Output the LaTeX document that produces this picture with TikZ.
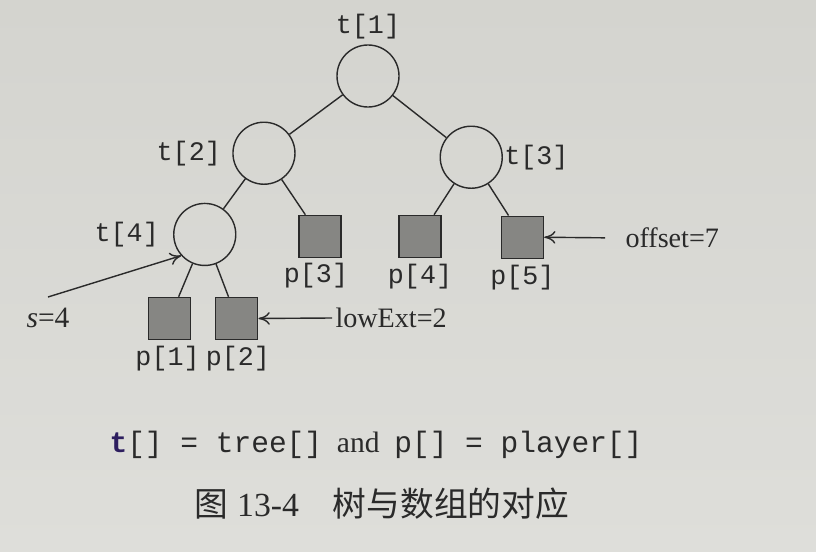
\documentclass[tikz,border=0pt]{standalone}
\usepackage{fontspec}
\setmainfont{Liberation Serif}
\setmonofont{Liberation Mono}
\newfontfamily\cjk{Noto Sans CJK SC}
\usetikzlibrary{positioning,arrows.meta}

\definecolor{paper}{RGB}{212,212,207}
\definecolor{paperlow}{RGB}{222,222,218}
\definecolor{leaf}{RGB}{134,134,131}
\definecolor{ink}{RGB}{42,42,42}
\definecolor{pen}{RGB}{45,30,95}

\begin{document}
\begin{tikzpicture}[x=0.025cm,y=-0.025cm,on grid,auto,
    line width=1pt,draw=ink,text=ink,>={To[length=8pt,width=9pt]},
    tnode/.style={circle,draw,minimum size=1.55cm,inner sep=0pt},
    pnode/.style={rectangle,draw,fill=leaf,minimum size=1.05cm,inner sep=0pt},
    tlabel/.style={font=\ttfamily\fontsize{19}{21}\selectfont,inner sep=0pt},
    note/.style={font=\fontsize{20}{22}\selectfont,inner sep=2pt}]
    % page
    \shade[top color=paper,bottom color=paperlow,draw=none] (0,0) rectangle (816,552);

    % \node[style] (identifier) [placement] {display};
    \node[tnode] (t1) at (368,76) {};
    \node[tnode] (t2) [below left=1.93cm and 2.6cm of t1] {};
    \node[tnode] (t3) [below right=2.03cm and 2.58cm of t1] {};
    \node[tnode] (t4) [below left=2.03cm and 1.48cm of t2] {};
    \node[pnode] (p3) [below right=2.08cm and 1.4cm of t2] {};
    \node[pnode] (p4) [below left=1.98cm and 1.28cm of t3] {};
    \node[pnode] (p5) [below right=2.0cm and 1.28cm of t3] {};
    \node[pnode] (p1) [below left=2.1cm and 0.88cm of t4] {};
    \node[pnode] (p2) [below right=2.1cm and 0.8cm of t4] {};

    \node[tlabel] (l1) [above=1.23cm of t1] {t[1]};
    \node[tlabel] (l2) [left=1.88cm of t2] {t[2]};
    \node[tlabel] (l3) [right=1.63cm of t3] {t[3]};
    \node[tlabel] (l4) [left=1.95cm of t4] {t[4]};
    \node[tlabel] (lp1) [below=1.0cm of p1,xshift=-0.05cm] {p[1]};
    \node[tlabel] (lp2) [below=1.0cm of p2,xshift=0.03cm] {p[2]};
    \node[tlabel] (lp3) [below=0.98cm of p3,xshift=-0.1cm] {p[3]};
    \node[tlabel] (lp4) [below=1.0cm of p4] {p[4]};
    \node[tlabel] (lp5) [below=1.0cm of p5] {p[5]};

    \node[note,font=\fontsize{21}{23}\selectfont] (s) at (48,318) {\textit{s}=4};
    \node[note,anchor=west] (lowext) at (332,318) {lowExt=2};
    \node[note,anchor=west] (offset) at (622,238) {offset=7};
    \coordinate (sfoot) at (48,297);

    % (start identifier) edge node {} (target identifier)
    \path
    (t1) edge (t2)
         edge (t3)
    (t2) edge (t4)
         edge (p3)
    (t3) edge (p4)
         edge (p5)
    (t4) edge (p1)
         edge (p2);
    \path[->]
    (sfoot) edge (t4.222)
    (lowext.west) edge (p2.east)
    (offset.west) edge[shorten <=12pt] (p5.east);

    % caption
    \node[inner sep=0pt] (key) at (376,445)
      {\fontsize{21}{23}\selectfont{\ttfamily\textcolor{pen}{\textbf{t}}[] = tree[]}\ \ and\ \ {\ttfamily p[] = player[]}};
    \node[inner sep=0pt] (title) at (382,504)
      {\fontsize{24}{26}\selectfont{\cjk 图}\ 13-4\quad{\cjk 树与数组的对应}};
\end{tikzpicture}
\end{document}
